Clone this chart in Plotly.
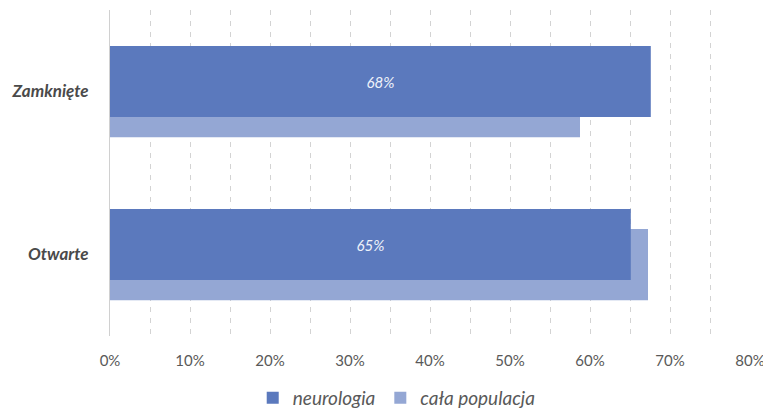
import plotly.graph_objects as go

categories = ["Zamknięte", "Otwarte"]
neurologia = [0.676, 0.651]
cala_populacja = [0.5875, 0.6725]
neuro_labels = ["68%", "65%"]
x_ticks = [0, 0.1, 0.2, 0.3, 0.4, 0.5, 0.6, 0.7, 0.8]

fig = go.Figure()
fig.add_trace(go.Bar(
    y=categories, x=cala_populacja, orientation="h", name="cała populacja",
    marker=dict(color="#94A7D4", line=dict(width=0)),
    width=0.436, offset=-0.156, legendrank=2, hoverinfo="skip",
))
fig.add_trace(go.Bar(
    y=categories, x=neurologia, orientation="h", name="neurologia",
    marker=dict(color="#5B79BD", line=dict(width=0)),
    width=0.436, offset=-0.279, legendrank=1,
    text=neuro_labels, textposition="inside", insidetextanchor="middle",
    textangle=0,
    textfont=dict(family="Lato", size=15, color="#EEF2FA", style="italic"),
    hoverinfo="skip",
))

# page body has an 8px default margin; figure is sized to fill the rest of the 771x408 window
fig.update_layout(
    barmode="overlay",
    width=763, height=400,
    margin=dict(l=102, r=21, t=2, b=72, autoexpand=False),
    paper_bgcolor="white", plot_bgcolor="white",
    font=dict(family="Lato", color="#595959"),
    showlegend=True,
    legend=dict(orientation="h", x=0.448, xanchor="center", y=-0.19, yanchor="middle",
                font=dict(family="Lato", size=19, color="#595959", style="italic"),
                itemwidth=30, traceorder="normal"),
    xaxis=dict(
        range=[0, 0.8], tickvals=x_ticks, tickformat=".0%",
        showgrid=True, gridcolor="#D3D3D3", griddash="5px,6px", gridwidth=1,
        minor=dict(dtick=0.05, showgrid=True, gridcolor="#D3D3D3", griddash="5px,6px", gridwidth=1),
        zeroline=False, showline=False, automargin=False,
        ticks="outside", ticklen=11, tickcolor="rgba(0,0,0,0)",
        tickfont=dict(family="Lato", size=15, color="#595959"),
    ),
    yaxis=dict(
        range=[1.5, -0.5], type="category", automargin=False,
        showline=True, linecolor="#D0D0D0", linewidth=1,
        showgrid=False, zeroline=False,
        ticks="outside", ticklen=17, tickcolor="rgba(0,0,0,0)",
        tickfont=dict(family="Lato", size=17, color="#4A4A4A", weight="bold", style="italic"),
    ),
)

fig.write_html("out.html")
